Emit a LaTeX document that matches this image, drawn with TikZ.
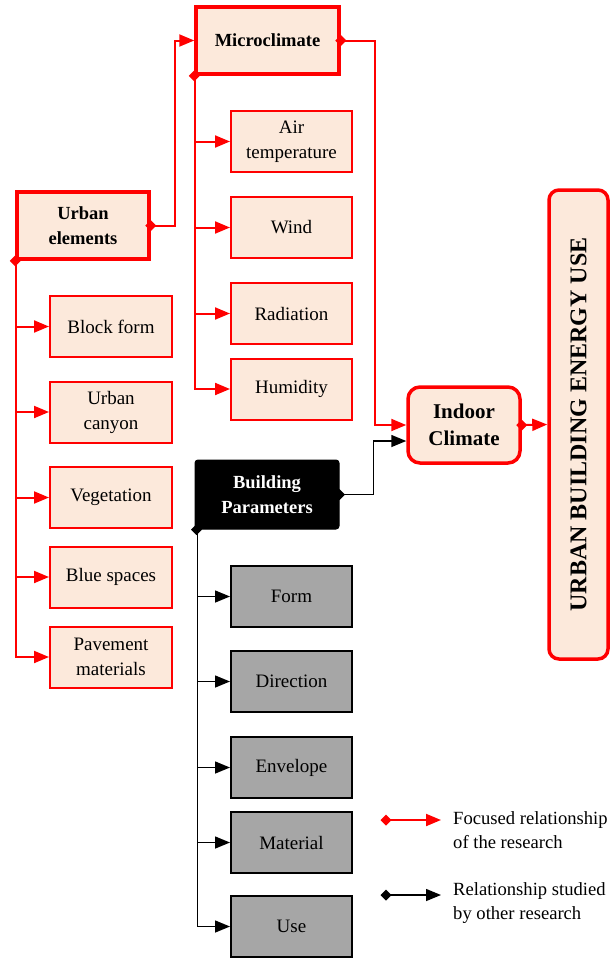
\documentclass[tikz,border=0pt]{standalone}
\usepackage{fontspec}
\setmainfont{Liberation Serif}
\usetikzlibrary{arrows.meta,calc}
\definecolor{peach}{HTML}{FCE9DB}
\definecolor{rd}{HTML}{FF0000}
\definecolor{gr}{HTML}{A6A6A6}
\tikzset{
  base/.style={draw, align=center, inner sep=2pt, font=\fontsize{19}{25}\selectfont},
  thinbox/.style={base, draw=rd, fill=peach, line width=2pt, minimum width=121pt, minimum height=61pt},
  leftbox/.style={thinbox, minimum width=122pt},
  thickbox/.style={base, draw=rd, fill=peach, line width=3.5pt, font=\fontsize{18.5}{25}\selectfont\bfseries},
  graybox/.style={base, draw=black, fill=gr, line width=2pt, minimum width=121pt, minimum height=61pt},
  rline/.style={draw=rd, line width=2pt},
  bline/.style={draw=black, line width=1.5pt},
  rarr/.style={rline, -{Triangle[length=15pt,width=12pt]}},
  barr/.style={bline, -{Triangle[length=15pt,width=12pt]}},
  rdia/.style={fill=rd, draw=none},
  bdia/.style={fill=black, draw=none},
}
\newcommand{\dmd}[2]{\fill[#1] ($(#2)+(-5.5,0)$) -- ($(#2)+(0,-5.5)$) -- ($(#2)+(5.5,0)$) -- ($(#2)+(0,5.5)$) -- cycle;}
\begin{document}
\begin{tikzpicture}[x=1pt,y=-1pt]
\useasboundingbox (0,0) rectangle (611,959);
% nodes
\node[thickbox, minimum width=143pt, minimum height=67pt] (mc) at (267.5,40.5) {Microclimate};
\node[thickbox, minimum width=132pt, minimum height=67pt] (ue) at (83,225.5) {Urban\\elements};
\node[thinbox] (at) at (291.5,141.5) {Air\\temperature};
\node[thinbox] (wi) at (291.5,227.5) {Wind};
\node[thinbox] (ra) at (291.5,313.5) {Radiation};
\node[thinbox] (hu) at (291.5,389) {Humidity};
\node[leftbox] (bf) at (111,326.5) {Block form};
\node[leftbox] (uc) at (111,412) {Urban\\canyon};
\node[leftbox] (ve) at (111,497.5) {Vegetation};
\node[leftbox] (bs) at (111,577) {Blue spaces};
\node[leftbox] (pm) at (111,657) {Pavement\\materials};
\node[thickbox, rounded corners=12pt, minimum width=112pt, minimum height=76pt, font=\fontsize{21}{27}\selectfont\bfseries] (ic) at (464,425) {Indoor\\Climate};
\node[thickbox, rounded corners=10pt, minimum width=59pt, minimum height=469pt] (ub) at (578.5,424.5) {};
\node[rotate=90, font=\fontsize{24}{28}\selectfont\bfseries] (ubt) at (ub.center) {URBAN BUILDING ENERGY USE};
\node[base, fill=black, rounded corners=3pt, line width=1pt, minimum width=144pt, minimum height=69pt, text=white, font=\fontsize{18.5}{25}\selectfont\bfseries] (bp) at (267,494.5) {Building\\Parameters};
\node[graybox] (fo) at (291.5,596.5) {Form};
\node[graybox] (di) at (291.5,681.5) {Direction};
\node[graybox] (en) at (291.5,767.5) {Envelope};
\node[graybox] (ma) at (291.5,842.5) {Material};
\node[graybox] (us) at (291.5,926.5) {Use};
% red connectors
\draw[rarr] (ue.east) -- ++(24,0) |- (mc.west);
\dmd{rdia}{ue.east}
\foreach \t in {bf,uc,ve,bs,pm} { \draw[rarr] ($(ue.south west)+(1,0)$) |- (\t.west); }
\dmd{rdia}{ue.south west}
\foreach \t in {at,wi,ra,hu} { \draw[rarr] ($(mc.south west)+(1,0)$) |- (\t.west); }
\dmd{rdia}{mc.south west}
\draw[rarr] (mc.east) -- ++(34,0) |- (ic.west);
\dmd{rdia}{mc.east}
\draw[rarr] (ic.east) -- (ub.west);
\dmd{rdia}{ic.east}
% black connectors
\draw[barr] (bp.east) -- ++(34,0) |- ([yshift=-16pt]ic.west);
\dmd{bdia}{bp.east}
\foreach \t in {fo,di,en,ma,us} { \draw[barr] ($(bp.south west)+(3,0)$) |- (\t.west); }
\dmd{bdia}{$(bp.south west)+(2,0)$}
% legend
\coordinate (l1a) at (386,820);
\coordinate (l1b) at (441,820);
\coordinate (l2a) at (386,895);
\coordinate (l2b) at (441,895);
\draw[rarr] (l1a) -- (l1b);
\dmd{rdia}{l1a}
\draw[barr] (l2a) -- (l2b);
\dmd{bdia}{l2a}
\node[anchor=west, align=left, font=\fontsize{18.6}{24}\selectfont, inner sep=0pt] (lt1) at (453,830) {Focused relationship\\of the research};
\node[anchor=west, align=left, font=\fontsize{18.6}{24}\selectfont, inner sep=0pt] (lt2) at (453,903) {Relationship studied\\by other research};
\end{tikzpicture}
\end{document}
